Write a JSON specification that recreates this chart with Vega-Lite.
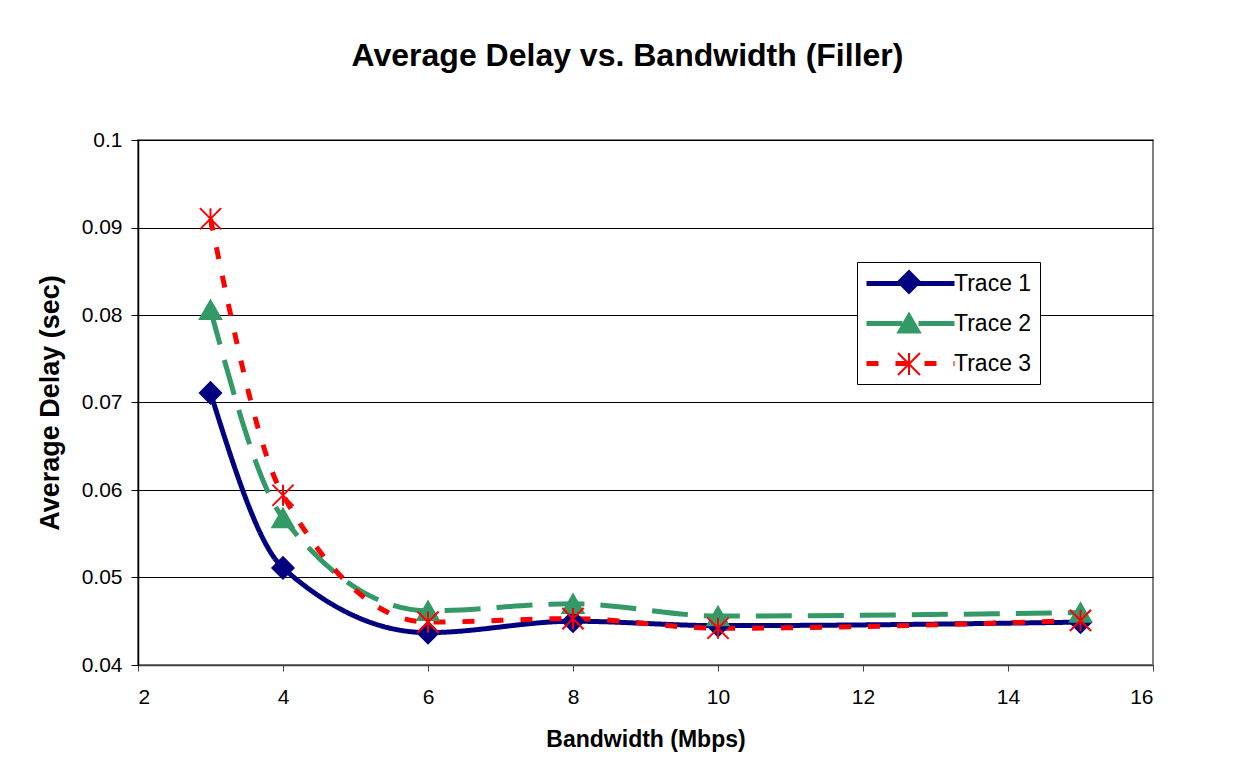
{
  "$schema": "https://vega.github.io/schema/vega-lite/v6.json",
  "width": 1015,
  "height": 525,
  "autosize": {"type": "none"},
  "padding": {"left": 138, "top": 140, "right": 82, "bottom": 114},
  "background": "white",
  "config": {
    "font": "Liberation Sans",
    "view": {"stroke": "#808080", "strokeWidth": 2}
  },
  "title": {
    "text": "Average Delay vs. Bandwidth (Filler)",
    "fontSize": 32,
    "fontWeight": "bold",
    "color": "black",
    "anchor": "middle",
    "baseline": "alphabetic",
    "offset": 31,
    "dx": -18
  },
  "data": {
    "values": [
      {"bw": 3, "delay": 0.0711, "trace": "Trace 1"},
      {"bw": 4, "delay": 0.0511, "trace": "Trace 1"},
      {"bw": 6, "delay": 0.0437, "trace": "Trace 1"},
      {"bw": 8, "delay": 0.0450, "trace": "Trace 1"},
      {"bw": 10, "delay": 0.0445, "trace": "Trace 1"},
      {"bw": 15, "delay": 0.0449, "trace": "Trace 1"},
      {"bw": 3, "delay": 0.0806, "trace": "Trace 2"},
      {"bw": 4, "delay": 0.0568, "trace": "Trace 2"},
      {"bw": 6, "delay": 0.0462, "trace": "Trace 2"},
      {"bw": 8, "delay": 0.0470, "trace": "Trace 2"},
      {"bw": 10, "delay": 0.0456, "trace": "Trace 2"},
      {"bw": 15, "delay": 0.0460, "trace": "Trace 2"},
      {"bw": 3, "delay": 0.0910, "trace": "Trace 3"},
      {"bw": 4, "delay": 0.0594, "trace": "Trace 3"},
      {"bw": 6, "delay": 0.0449, "trace": "Trace 3"},
      {"bw": 8, "delay": 0.0453, "trace": "Trace 3"},
      {"bw": 10, "delay": 0.0442, "trace": "Trace 3"},
      {"bw": 15, "delay": 0.0451, "trace": "Trace 3"}
    ]
  },
  "encoding": {
    "x": {
      "field": "bw",
      "type": "quantitative",
      "scale": {"domain": [2, 16], "nice": false, "zero": false},
      "axis": {
        "title": "Bandwidth (Mbps)",
        "values": [2, 4, 6, 8, 10, 12, 14, 16],
        "grid": false,
        "domainColor": "#404040",
        "domainWidth": 1.5,
        "tickColor": "#404040",
        "tickSize": 6,
        "labelPadding": 15,
        "labelFontSize": 21,
        "labelColor": "black",
        "titleFontSize": 23,
        "titleFontWeight": "bold",
        "titleColor": "black",
        "titlePadding": 21
      }
    },
    "y": {
      "field": "delay",
      "type": "quantitative",
      "scale": {"domain": [0.04, 0.1], "nice": false, "zero": false},
      "axis": {
        "title": "Average Delay (sec)",
        "values": [0.04, 0.05, 0.06, 0.07, 0.08, 0.09, 0.1],
        "format": ".2~f",
        "grid": true,
        "gridColor": "black",
        "gridWidth": 1,
        "gridOpacity": 1,
        "domainColor": "black",
        "domainWidth": 1.5,
        "tickColor": "black",
        "tickSize": 7,
        "labelPadding": 9,
        "labelFontSize": 21,
        "labelColor": "black",
        "titleFontSize": 27,
        "titleFontWeight": "bold",
        "titleColor": "black",
        "titlePadding": 17
      }
    }
  },
  "layer": [
    {
      "mark": {"type": "line", "interpolate": "monotone", "strokeWidth": 5},
      "encoding": {
        "color": {
          "field": "trace",
          "type": "nominal",
          "scale": {"domain": ["Trace 1", "Trace 2", "Trace 3"], "range": ["#000080", "#339966", "#FF0000"]},
          "legend": {
            "title": null,
            "orient": "none",
            "legendX": 719,
            "legendY": 122,
            "padding": 8,
            "strokeColor": "black",
            "fillColor": "white",
            "symbolType": "M-4,0L4,0",
            "symbolSize": 484,
            "symbolStrokeWidth": 5,
            "symbolOffset": 32,
            "labelOffset": 30,
            "labelFontSize": 23,
            "labelColor": "black",
            "rowPadding": 14
          }
        },
        "strokeDash": {
          "field": "trace",
          "type": "nominal",
          "scale": {"domain": ["Trace 1", "Trace 2", "Trace 3"], "range": [[1, 0], [36, 16], [12, 17]]},
          "legend": {
            "title": null,
            "orient": "none",
            "legendX": 719,
            "legendY": 122,
            "padding": 8,
            "strokeColor": "black",
            "fillColor": "white",
            "symbolType": "M-4,0L4,0",
            "symbolSize": 484,
            "symbolStrokeWidth": 5,
            "symbolOffset": 32,
            "labelOffset": 30,
            "labelFontSize": 23,
            "labelColor": "black",
            "rowPadding": 14
          }
        }
      }
    },
    {
      "mark": {"type": "point", "filled": true, "size": 450, "strokeWidth": 2, "opacity": 1},
      "encoding": {
        "shape": {
          "field": "trace",
          "type": "nominal",
          "scale": {"range": ["diamond", "triangle-up", "M-1,-1L1,1M-1,1L1,-1M0,-1L0,1"]},
          "legend": {
            "title": null,
            "orient": "none",
            "legendX": 719,
            "legendY": 122,
            "padding": 8,
            "symbolSize": 484,
            "symbolStrokeWidth": 2,
            "symbolOffset": 32,
            "labelOffset": 30,
            "labelFontSize": 23,
            "labelExpr": "''",
            "rowPadding": 12
          }
        },
        "fill": {
          "field": "trace",
          "type": "nominal",
          "scale": {"range": ["#000080", "#339966", "#FF0000"]},
          "legend": {
            "title": null,
            "orient": "none",
            "legendX": 719,
            "legendY": 122,
            "padding": 8,
            "symbolSize": 484,
            "symbolStrokeWidth": 2,
            "symbolOffset": 32,
            "labelOffset": 30,
            "labelFontSize": 23,
            "labelExpr": "''",
            "rowPadding": 12
          }
        },
        "stroke": {
          "field": "trace",
          "type": "nominal",
          "scale": {"range": ["#000080", "#339966", "#FF0000"]},
          "legend": {
            "title": null,
            "orient": "none",
            "legendX": 719,
            "legendY": 122,
            "padding": 8,
            "symbolSize": 484,
            "symbolStrokeWidth": 2,
            "symbolOffset": 32,
            "labelOffset": 30,
            "labelFontSize": 23,
            "labelExpr": "''",
            "rowPadding": 12
          }
        }
      }
    }
  ]
}
